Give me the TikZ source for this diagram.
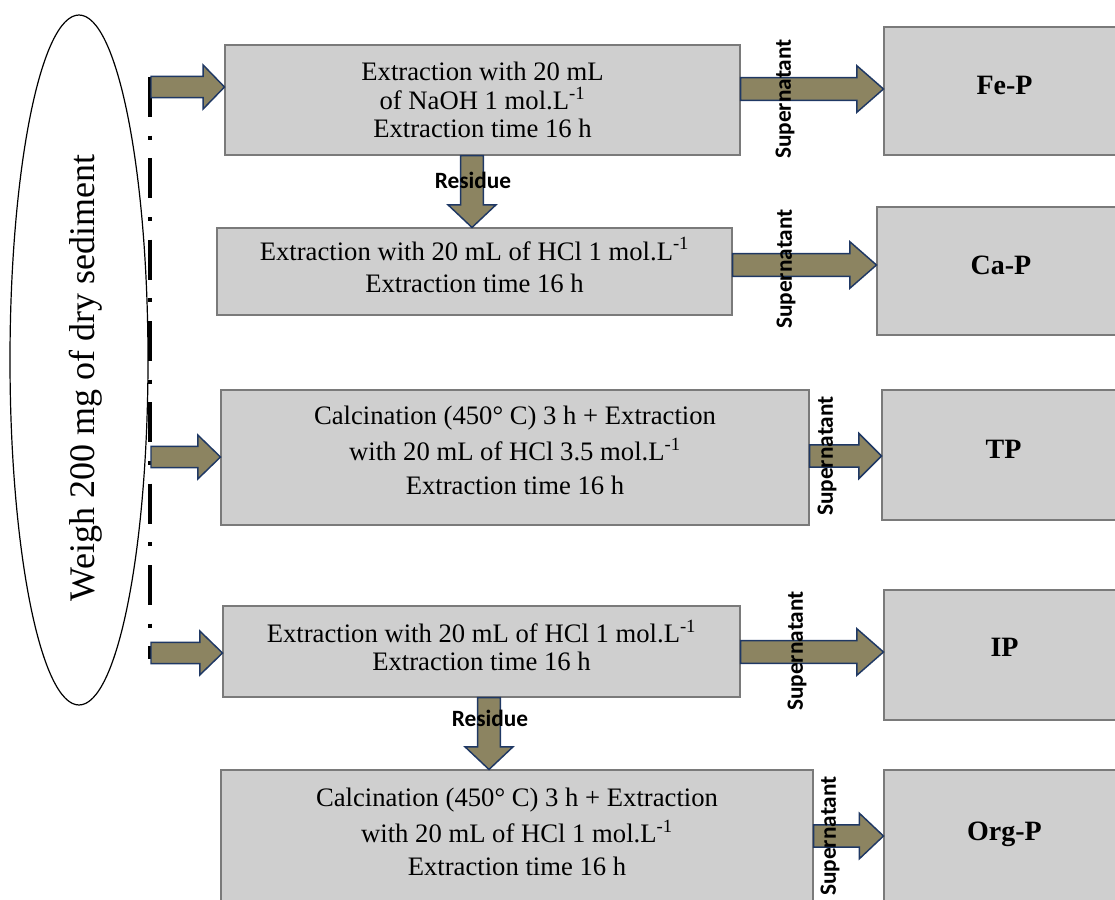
\documentclass[tikz,border=0pt]{standalone}
\usepackage{fontspec}
\setmainfont{Liberation Serif}
\newfontfamily\calfont{Carlito}
\usetikzlibrary{calc,shapes.geometric}
\definecolor{boxfill}{HTML}{CFCFCF}
\definecolor{boxline}{HTML}{7A7A7A}
\definecolor{arrfill}{HTML}{8C8461}
\definecolor{arrline}{HTML}{1F3864}
\tikzset{
  procbox/.style 2 args={draw=boxline, fill=boxfill, line width=0.8pt, inner sep=0pt,
    minimum width={#1*0.75pt}, minimum height={#2*0.75pt}, align=center,
    font=\fontsize{20}{20}\selectfont},
  resbox/.style 2 args={draw=boxline, fill=boxfill, line width=0.8pt, inner sep=0pt,
    minimum width={#1*0.75pt}, minimum height={#2*0.75pt}, text depth=9pt,
    font=\fontsize{21}{24}\selectfont\bfseries},
  blockarrow/.style={fill=arrfill, draw=arrline, line width=1.1pt, line join=miter},
  sidelabel/.style={font=\calfont\fontsize{17.5}{20}\selectfont\bfseries, inner sep=0pt},
  dashdot/.style={line width=3.2pt, dash pattern=on 30pt off 14pt on 3pt off 14pt}
}
\newcommand\harr[5]{% start, end, shaft half, head half, head length
  \path[blockarrow] let \p1=(#1), \p2=(#2) in
    (\x1,\y1+#3) -- (\x2-#5,\y1+#3) -- (\x2-#5,\y1+#4) -- (\x2,\y1)
    -- (\x2-#5,\y1-#4) -- (\x2-#5,\y1-#3) -- (\x1,\y1-#3) -- cycle;}
\newcommand\varr[5]{%
  \path[blockarrow] let \p1=(#1), \p2=(#2) in
    (\x1-#3,\y1) -- (\x1-#3,\y2+#5) -- (\x1-#4,\y2+#5) -- (\x1,\y2)
    -- (\x1+#4,\y2+#5) -- (\x1+#3,\y2+#5) -- (\x1+#3,\y1) -- cycle;}
\begin{document}
\begin{tikzpicture}[x=0.75pt,y=-0.75pt]
\useasboundingbox (0,0) rectangle (1115,900);
\clip (0,0) rectangle (1115,900);
% ellipse
\node[draw, line width=0.9pt, ellipse, minimum width={138*0.75pt}, minimum height={690*0.75pt}, inner sep=0pt] (ell) at (79,360) {};
\node[rotate=90, font=\fontsize{27}{28}\selectfont] (weigh) at (86,378) {Weigh 200 mg of dry sediment};
% dash-dot line
\coordinate (dtop) at (150,77);
\coordinate (dbot) at (150,659);
\draw[dashdot] (dtop) -- (dbot);
% process boxes
\node[procbox={515}{110}] (b1) at (482.5,100) {Extraction with 20 mL\\[2pt] of NaOH 1 mol.L\textsuperscript{-1}\\[1pt] Extraction time 16 h};
\node[procbox={515}{87}, text depth=10pt] (b2) at (474.5,271.5) {Extraction with 20 mL of HCl 1 mol.L\textsuperscript{-1}\\[4pt] Extraction time 16 h};
\node[procbox={588}{135}, text depth=11pt] (b3) at (515,457.5) {Calcination (450° C) 3 h + Extraction\\[5pt] with 20 mL of HCl 3.5 mol.L\textsuperscript{-1}\\[5pt] Extraction time 16 h};
\node[procbox={517}{91}, text depth=9pt] (b4) at (481.5,651.5) {Extraction with 20 mL of HCl 1 mol.L\textsuperscript{-1}\\[1pt] Extraction time 16 h};
\node[procbox={592}{140}, text depth=12pt] (b5) at (517,840) {Calcination (450° C) 3 h + Extraction\\[5pt] with 20 mL of HCl 1 mol.L\textsuperscript{-1}\\[5pt] Extraction time 16 h};
% result boxes
\node[resbox={241}{128}] (fe) at (1004.5,91) {Fe-P};
\node[resbox={248}{128}] (ca) at (1001,271) {Ca-P};
\node[resbox={243}{130}] (tp) at (1003.5,455) {TP};
\node[resbox={241}{130}, text depth=12pt] (ip) at (1004.5,655) {IP};
\node[resbox={241}{135}] (org) at (1004.5,837.5) {Org-P};
% left arrows
\coordinate (l1) at (151,87);
\coordinate (l3) at (151,457);
\coordinate (l4) at (151,653);
\harr{l1}{b1.west |- l1}{7.9pt}{16.5pt}{16pt}
\harr{l3}{b3.west |- l3}{7.9pt}{16.5pt}{17pt}
\harr{l4}{b4.west |- l4}{7.9pt}{16.5pt}{17pt}
% supernatant arrows
\coordinate (s1) at (b1.east |- 0,89);
\coordinate (s2) at (b2.east |- 0,265);
\coordinate (s3) at (b3.east |- 0,456);
\coordinate (s4) at (b4.east |- 0,652);
\coordinate (s5) at (b5.east |- 0,836);
\harr{s1}{fe.west |- s1}{8.5pt}{17.5pt}{20pt}
\harr{s2}{ca.west |- s2}{8.5pt}{17.5pt}{20pt}
\harr{s3}{tp.west |- s3}{8.3pt}{17pt}{17pt}
\harr{s4}{ip.west |- s4}{8.5pt}{17.5pt}{20pt}
\harr{s5}{org.west |- s5}{8.3pt}{17pt}{18pt}
% residue arrows
\coordinate (r1) at (472,0);
\coordinate (r2) at (489,0);
\varr{b1.south -| r1}{b2.north -| r1}{8.6pt}{18pt}{17pt}
\varr{b4.south -| r2}{b5.north -| r2}{8.6pt}{18pt}{17pt}
% labels
\node[sidelabel, rotate=90] (sl1) at (785,99) {Supernatant};
\node[sidelabel, rotate=90] (sl2) at (786,269) {Supernatant};
\node[sidelabel, rotate=90] (sl3) at (827,456) {Supernatant};
\node[sidelabel, rotate=90] (sl4) at (797,651) {Supernatant};
\node[sidelabel, rotate=90] (sl5) at (830,836) {Supernatant};
\node[sidelabel] (rl1) at (473,180) {Residue};
\node[sidelabel] (rl2) at (490,718) {Residue};
\end{tikzpicture}
\end{document}
